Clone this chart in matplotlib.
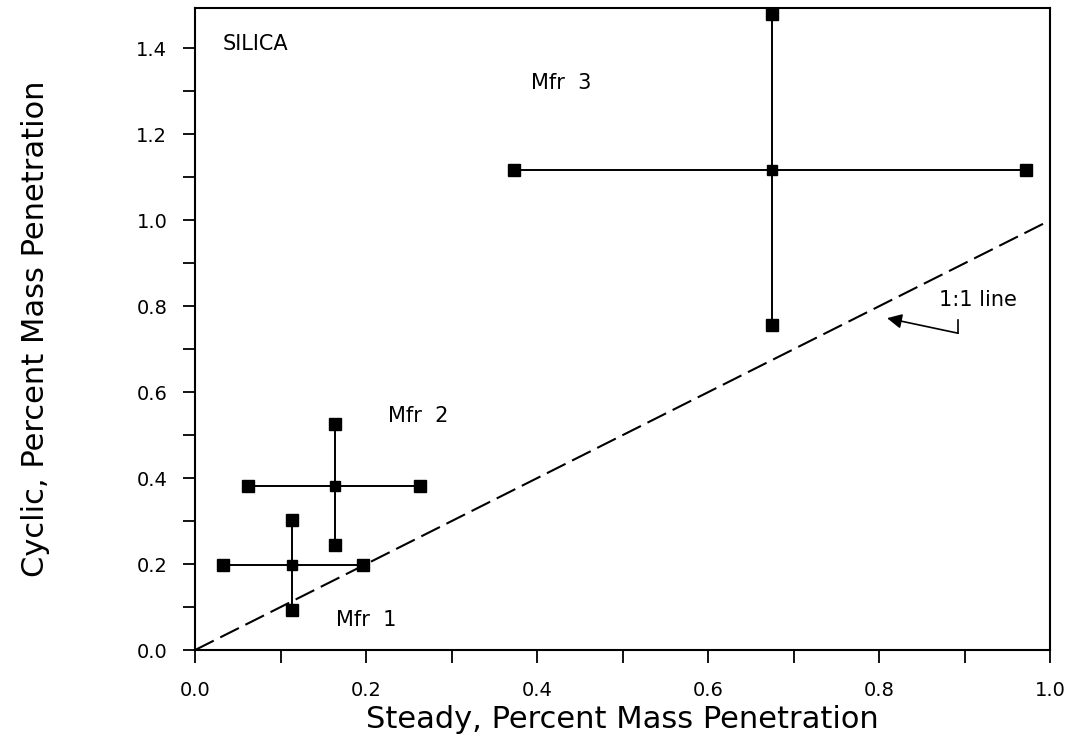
#!/usr/bin/env python3
import matplotlib
matplotlib.use('Agg')
from matplotlib import pyplot as plt
from matplotlib.ticker import MultipleLocator, FormatStrFormatter

# Werte (Mitte, Min, Max je Hersteller)
names = ['Mfr  1', 'Mfr  2', 'Mfr  3']
steady_mid = [0.113, 0.163, 0.674]
steady_lo = [0.033, 0.062, 0.373]
steady_hi = [0.196, 0.263, 0.972]
cyclic_mid = [0.198, 0.381, 1.116]
cyclic_lo = [0.093, 0.244, 0.756]
cyclic_hi = [0.302, 0.525, 1.479]

# Beschriftungs-Positionen (x, y) fuer die Herstellernamen
name_pos = [(0.165, 0.07), (0.225, 0.545), (0.393, 1.32)]

one_to_one = [0.0, 1.0]

plt.rcParams['font.family'] = ['DejaVu Sans']

fig = plt.figure(figsize=(10.84, 7.48), dpi=100)
ax = fig.add_axes([0.180, 0.131, 0.789, 0.858])

for i in range(len(names)):
    # waagrechter Balken
    ax.plot([steady_lo[i], steady_hi[i]], [cyclic_mid[i], cyclic_mid[i]],
            color='black', linewidth=1.4)
    # senkrechter Balken
    ax.plot([steady_mid[i], steady_mid[i]], [cyclic_lo[i], cyclic_hi[i]],
            color='black', linewidth=1.4)
    ax.plot([steady_lo[i], steady_hi[i], steady_mid[i], steady_mid[i]],
            [cyclic_mid[i], cyclic_mid[i], cyclic_lo[i], cyclic_hi[i]],
            linestyle='none', marker='s', markersize=9, color='black')
    ax.plot([steady_mid[i]], [cyclic_mid[i]], marker='s', markersize=7.5,
            color='black')
    ax.text(name_pos[i][0], name_pos[i][1], names[i], fontsize=15,
            va='center')

ax.plot(one_to_one, one_to_one, color='black', linewidth=1.5,
        dashes=(10, 3.5))

ax.text(0.032, 1.41, 'SILICA', fontsize=15, va='center')
ax.text(0.87, 0.815, '1:1 line', fontsize=15, va='center')

# Pfeil zur 1:1 Linie
ax.plot([0.892, 0.892], [0.767, 0.737], color='black', linewidth=1.2)
ax.annotate('', xy=(0.809, 0.772), xytext=(0.892, 0.737),
            arrowprops=dict(arrowstyle='-|>', color='black', lw=1.2,
                            mutation_scale=22, shrinkA=0, shrinkB=0))

ax.set_xlim(0.0, 1.0)
ax.set_ylim(0.0, 1.493)
ax.xaxis.set_major_locator(MultipleLocator(0.2))
ax.xaxis.set_minor_locator(MultipleLocator(0.1))
ax.yaxis.set_major_locator(MultipleLocator(0.2))
ax.yaxis.set_minor_locator(MultipleLocator(0.1))
ax.xaxis.set_major_formatter(FormatStrFormatter('%.1f'))
ax.yaxis.set_major_formatter(FormatStrFormatter('%.1f'))
ax.tick_params(which='both', direction='out', length=9, width=1.3,
               labelsize=14, top=False, right=False)
ax.tick_params(axis='x', pad=13)
ax.tick_params(axis='y', pad=11)
for s in ax.spines.values():
    s.set_linewidth(1.5)

ax.set_xlabel('Steady, Percent Mass Penetration', fontsize=22, labelpad=4)
ax.set_ylabel('Cyclic, Percent Mass Penetration', fontsize=22, labelpad=62)

fig.savefig('out.png', dpi=100)
plt.close()
